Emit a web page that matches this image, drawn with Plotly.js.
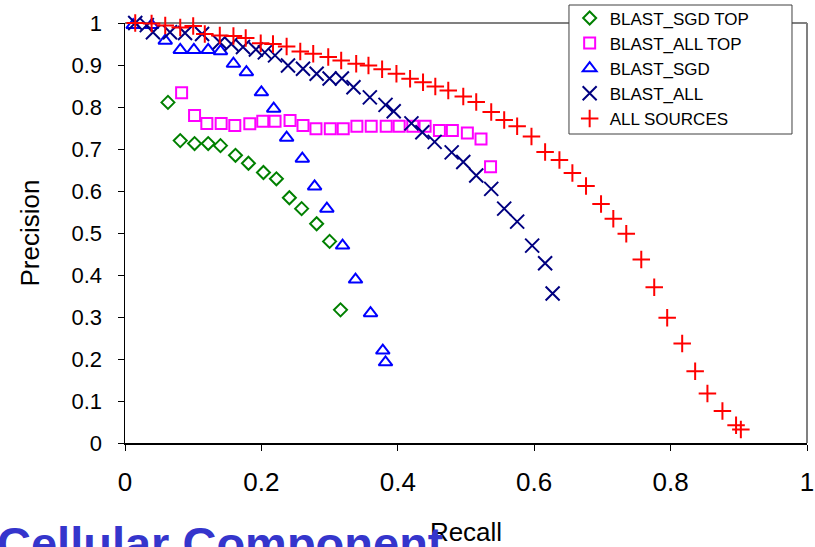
<!DOCTYPE html>
<html>
<head>
<meta charset="utf-8">
<script src="https://cdn.plot.ly/plotly-3.0.1.min.js"></script>
<style>html,body{margin:0;padding:0;background:#fff;}#chart{width:815px;height:547px;}</style>
</head>
<body>
<div id="chart"></div>
<script>
// ---- data ----
const seriesNames = ["BLAST_SGD TOP", "BLAST_ALL TOP", "BLAST_SGD", "BLAST_ALL", "ALL SOURCES"];

const sgdTopRecall = [0.063, 0.081, 0.102, 0.122, 0.140, 0.162, 0.181, 0.203, 0.222, 0.241, 0.259, 0.281, 0.300, 0.316];
const sgdTopPrecision = [0.811, 0.720, 0.713, 0.713, 0.708, 0.685, 0.666, 0.644, 0.629, 0.584, 0.558, 0.522, 0.480, 0.317];

const allTopRecall = [0.083, 0.102, 0.120, 0.141, 0.161, 0.183, 0.202, 0.220, 0.242, 0.261, 0.280, 0.301, 0.320, 0.340, 0.361, 0.383, 0.402, 0.422, 0.440, 0.461, 0.480, 0.502, 0.522, 0.536];
const allTopPrecision = [0.834, 0.780, 0.761, 0.761, 0.756, 0.760, 0.766, 0.766, 0.768, 0.756, 0.748, 0.748, 0.748, 0.754, 0.754, 0.754, 0.754, 0.754, 0.754, 0.744, 0.744, 0.738, 0.724, 0.658];

const sgdRecall = [0.012, 0.039, 0.059, 0.081, 0.101, 0.122, 0.140, 0.159, 0.178, 0.200, 0.218, 0.237, 0.260, 0.278, 0.296, 0.319, 0.338, 0.360, 0.378, 0.382];
const sgdPrecision = [0.995, 0.995, 0.958, 0.936, 0.936, 0.936, 0.933, 0.903, 0.883, 0.835, 0.796, 0.727, 0.677, 0.611, 0.558, 0.470, 0.389, 0.309, 0.220, 0.192];

const allRecall = [0.015, 0.032, 0.041, 0.066, 0.088, 0.113, 0.139, 0.156, 0.173, 0.192, 0.205, 0.220, 0.239, 0.261, 0.281, 0.300, 0.318, 0.335, 0.359, 0.382, 0.394, 0.420, 0.436, 0.454, 0.479, 0.496, 0.515, 0.537, 0.556, 0.575, 0.597, 0.616, 0.627];
const allPrecision = [1.000, 0.995, 0.978, 0.978, 0.976, 0.974, 0.954, 0.950, 0.943, 0.937, 0.930, 0.923, 0.899, 0.891, 0.879, 0.868, 0.868, 0.847, 0.823, 0.805, 0.790, 0.761, 0.740, 0.717, 0.692, 0.669, 0.637, 0.605, 0.558, 0.527, 0.470, 0.428, 0.356];

const sourcesRecall = [0.015, 0.039, 0.059, 0.081, 0.100, 0.117, 0.139, 0.159, 0.177, 0.199, 0.217, 0.237, 0.257, 0.276, 0.298, 0.317, 0.339, 0.357, 0.377, 0.398, 0.418, 0.437, 0.455, 0.474, 0.496, 0.515, 0.537, 0.556, 0.575, 0.596, 0.616, 0.637, 0.656, 0.676, 0.698, 0.716, 0.735, 0.757, 0.776, 0.795, 0.817, 0.836, 0.854, 0.876, 0.896, 0.903];
const sourcesPrecision = [1.000, 0.999, 0.994, 0.989, 0.993, 0.974, 0.970, 0.969, 0.964, 0.952, 0.950, 0.944, 0.932, 0.927, 0.919, 0.911, 0.903, 0.899, 0.890, 0.879, 0.867, 0.859, 0.849, 0.839, 0.825, 0.812, 0.788, 0.769, 0.754, 0.730, 0.693, 0.674, 0.643, 0.612, 0.569, 0.534, 0.498, 0.437, 0.371, 0.298, 0.237, 0.171, 0.118, 0.076, 0.042, 0.032];

const xTickVals = [0, 0.2, 0.4, 0.6, 0.8, 1];
const xTickText = ["0", "0.2", "0.4", "0.6", "0.8", "1"];
const yTickVals = [0, 0.1, 0.2, 0.3, 0.4, 0.5, 0.6, 0.7, 0.8, 0.9, 1];
const yTickText = ["0", "0.1", "0.2", "0.3", "0.4", "0.5", "0.6", "0.7", "0.8", "0.9", "1"];

// ---- styles ----
const FONT = "Liberation Sans, Arial, sans-serif";
function pts(x, y, name, symbol, color, size) {
  return {
    type: "scatter", mode: "markers", x: x, y: y, name: name, cliponaxis: false,
    marker: { symbol: symbol, size: size, color: color, line: { color: color, width: 2 } },
    hoverinfo: "x+y+name"
  };
}

const data = [
  pts(sgdTopRecall, sgdTopPrecision, seriesNames[0], "diamond-open", "#008000", 10),
  pts(allTopRecall, allTopPrecision, seriesNames[1], "square-open", "#FF00FF", 11),
  pts(sgdRecall, sgdPrecision, seriesNames[2], "triangle-up-open", "#0000FF", 12),
  pts(allRecall, allPrecision, seriesNames[3], "x-thin-open", "#000080", 14),
  pts(sourcesRecall, sourcesPrecision, seriesNames[4], "cross-thin-open", "#FF0000", 12.5)
];

// plot area: top edge 23 px, bottom edge 443 px (paper spans 0..443 px since top margin is 0)
const PH = 443;
const yTop = 420 / PH;
const layout = {
  width: 815, height: 547,
  margin: { l: 125, r: 8, t: 0, b: 104, pad: 0 },
  paper_bgcolor: "#ffffff", plot_bgcolor: "#ffffff",
  font: { family: FONT, color: "#000" },
  showlegend: true,
  legend: {
    x: 0.652, y: 0.999, xanchor: "left", yanchor: "top",
    bgcolor: "rgba(0,0,0,0)", borderwidth: 0,
    font: { family: FONT, size: 17, color: "#000" },
    traceorder: "normal"
  },
  xaxis: {
    range: [0, 1], tickmode: "array", tickvals: xTickVals, ticktext: xTickText,
    showgrid: false, zeroline: false, showline: true, linecolor: "#000", linewidth: 1.5,
    ticks: "outside", ticklen: 6, tickwidth: 1, tickcolor: "#000",
    ticklabelstandoff: 9,
    tickfont: { family: FONT, size: 26, color: "#000" },
    title: { text: "Recall", font: { family: FONT, size: 26, color: "#000" }, standoff: 40 }
  },
  yaxis: {
    domain: [0, yTop],
    range: [0, 1], tickmode: "array", tickvals: yTickVals, ticktext: yTickText,
    showgrid: false, zeroline: false, showline: true, linecolor: "#000", linewidth: 1.5,
    ticks: "outside", ticklen: 6, tickwidth: 1, tickcolor: "#000",
    ticklabelstandoff: 11,
    tickfont: { family: FONT, size: 22, color: "#000" },
    title: { text: "Precision", font: { family: FONT, size: 26, color: "#000" }, standoff: 24 }
  },
  shapes: [
    { type: "line", xref: "paper", yref: "paper", x0: 0, x1: 1, y0: yTop, y1: yTop, layer: "below", line: { color: "#808080", width: 2 } },
    { type: "line", xref: "paper", yref: "paper", x0: 1, x1: 1, y0: 0, y1: yTop, layer: "below", line: { color: "#808080", width: 2 } },
    { type: "rect", xref: "paper", yref: "paper", x0: 0.651, x1: 0.978, y0: (PH - 134) / PH, y1: (PH - 5) / PH, layer: "below", fillcolor: "#ffffff", line: { color: "#404040", width: 1 } }
  ],
  annotations: [
    { text: "<b>Cellular Component</b>", xref: "paper", yref: "paper", x: -0.19, y: -71.5 / PH, xanchor: "left", yanchor: "top",
      showarrow: false, font: { family: FONT, size: 47, color: "#3535CC" } }
  ]
};

Plotly.newPlot("chart", data, layout, { displayModeBar: false, staticPlot: true });
</script>
</body>
</html>
